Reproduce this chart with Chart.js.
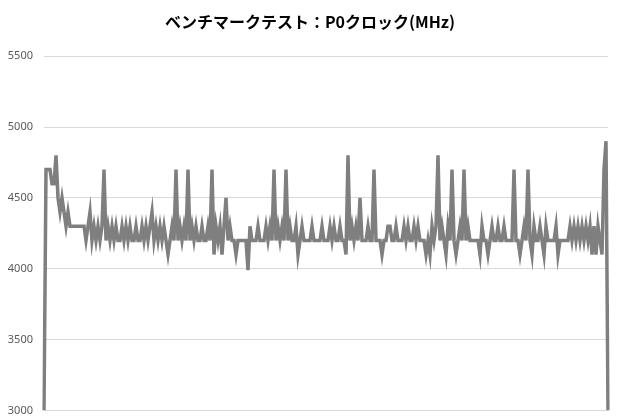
<!DOCTYPE html>
<html>
<head>
<meta charset="utf-8">
<script src="https://cdn.jsdelivr.net/npm/chart.js@4"></script>
<style>
  html, body { margin: 0; padding: 0; background: #fff; }
</style>
</head>
<body>
<canvas id="myChart" width="620" height="420"></canvas>
<script>
const titleText = "ベンチマークテスト：P0クロック(MHz)";
const yTicks = [3000, 3500, 4000, 4500, 5000, 5500];

// P0 clock per sample (MHz)
const clockMHz = [
  3000, 4700, 4700, 4700, 4600, 4600, 4800, 4500, 4400, 4500,
  4400, 4300, 4400, 4300, 4300, 4300, 4300, 4300, 4300, 4300,
  4300, 4200, 4300, 4400, 4200, 4300, 4200, 4300, 4200, 4300,
  4700, 4200, 4300, 4200, 4300, 4200, 4300, 4200, 4200, 4300,
  4200, 4300, 4200, 4300, 4200, 4200, 4300, 4200, 4200, 4300,
  4200, 4300, 4200, 4300, 4400, 4200, 4300, 4200, 4300, 4200,
  4300, 4200, 4100, 4200, 4300, 4200, 4700, 4200, 4300, 4200,
  4300, 4200, 4700, 4200, 4300, 4200, 4300, 4200, 4200, 4300,
  4200, 4200, 4300, 4200, 4700, 4100, 4300, 4200, 4300, 4100,
  4300, 4500, 4200, 4300, 4200, 4200, 4100, 4200, 4200, 4200,
  4200, 4200, 3990, 4300, 4200, 4200, 4200, 4300, 4200, 4200,
  4200, 4300, 4200, 4300, 4200, 4700, 4200, 4300, 4200, 4300,
  4200, 4700, 4200, 4300, 4200, 4200, 4300, 4100, 4200, 4300,
  4200, 4200, 4200, 4200, 4300, 4200, 4200, 4200, 4200, 4300,
  4200, 4200, 4200, 4300, 4200, 4300, 4200, 4200, 4300, 4200,
  4200, 4100, 4800, 4200, 4300, 4200, 4300, 4200, 4500, 4200,
  4200, 4200, 4300, 4200, 4200, 4700, 4200, 4200, 4200, 4100,
  4200, 4200, 4300, 4300, 4200, 4200, 4300, 4200, 4200, 4200,
  4300, 4200, 4300, 4200, 4200, 4300, 4200, 4300, 4200, 4200,
  4200, 4100, 4200, 4100, 4300, 4200, 4300, 4800, 4200, 4300,
  4200, 4100, 4300, 4200, 4700, 4200, 4100, 4200, 4300, 4200,
  4700, 4200, 4300, 4200, 4200, 4200, 4200, 4200, 4100, 4300,
  4200, 4200, 4100, 4200, 4300, 4200, 4200, 4300, 4200, 4200,
  4300, 4200, 4200, 4200, 4200, 4700, 4200, 4200, 4100, 4200,
  4300, 4200, 4700, 4200, 4100, 4300, 4200, 4200, 4300, 4200,
  4100, 4300, 4200, 4200, 4200, 4200, 4300, 4100, 4200, 4200,
  4200, 4200, 4200, 4300, 4200, 4300, 4200, 4300, 4200, 4300,
  4200, 4300, 4200, 4300, 4100, 4300, 4100, 4300, 4200, 4100,
  4700, 4900, 3000
];
const samples = clockMHz.map((v, i) => i + 1);

const ctx = document.getElementById("myChart");

new Chart(ctx, {
  type: "line",
  data: {
    labels: samples,
    datasets: [{
      data: clockMHz,
      borderColor: "#7f7f7f",
      borderWidth: 3.5,
      pointRadius: 0,
      tension: 0,
      fill: false,
    }],
  },
  options: {
    responsive: false,
    animation: false,
    devicePixelRatio: 1,
    layout: { padding: { left: 0, right: 0, top: 0, bottom: 0 } },
    plugins: {
      legend: { display: false },
      tooltip: { enabled: false },
      title: {
        display: true,
        text: titleText,
        color: "#000",
        font: { family: "'Noto Sans CJK JP', sans-serif", size: 16, weight: "bold" },
        padding: { top: 12, bottom: 25 },
      },
    },
    scales: {
      x: {
        display: false,
        offset: false,
      },
      y: {
        min: 3000,
        max: 5500,
        afterBuildTicks: (scale) => {
          scale.ticks = yTicks.map((v) => ({ value: v }));
        },
        afterFit: (scale) => { scale.width = 44; },
        border: { display: false },
        grid: {
          color: "#d9d9d9",
          lineWidth: 1,
          drawTicks: true,
          tickLength: 8,
          tickColor: "rgba(0,0,0,0)",
        },
        ticks: {
          padding: 3,
          color: "#595959",
          font: { family: "'Noto Sans', sans-serif", size: 11 },
          callback: (value) => String(value),
        },
      },
      yRight: {
        position: "right",
        display: true,
        afterFit: (scale) => { scale.width = 12; },
        border: { display: false },
        grid: { display: false, drawTicks: false },
        ticks: { display: false },
      },
    },
  },
});
</script>
</body>
</html>
